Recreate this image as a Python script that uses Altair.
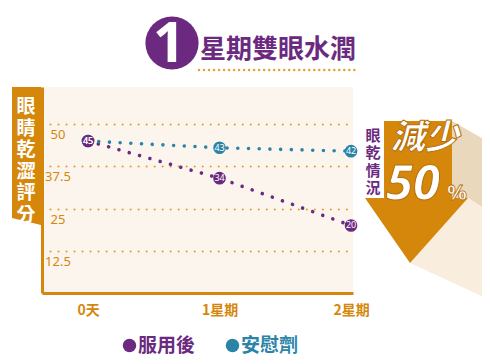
import json
import altair as alt
import pandas as pd

# ---- data ----
weeks = [0, 1, 2]
week_labels = ["0天", "1星期", "2星期"]
series_names = ["服用後", "安慰劑"]
treated = [45, 34, 20]
placebo = [45, 43, 42]
y_ticks = [12.5, 25, 37.5, 50]
y_tick_labels = ["12.5", "25", "37.5", "50"]

title_num = "1"
title_text = "星期雙眼水潤"
y_title_chars = ["眼", "睛", "乾", "澀", "評", "分"]
badge_chars = ["眼", "乾", "情", "況"]
badge_main = "減少"
badge_pct = "50"

PURPLE = "#6B2A80"
BLUE = "#2A84A8"
ORANGE = "#D5870C"
GRID = "#E4A032"
BEIGE = "#FBF5EE"
TAN = "#E9D8BC"
LIGHT = "#F9EEDE"
CJK = "Noto Sans CJK TC"

df = pd.DataFrame({
    "week": weeks * 2,
    "score": treated + placebo,
    "series": [series_names[0]] * len(weeks) + [series_names[1]] * len(weeks),
})
df["order"] = df["series"].map({series_names[1]: 0, series_names[0]: 1})
ticks_df = pd.DataFrame({"week": [0] * len(y_ticks), "score": y_ticks, "lab": y_tick_labels})
one = pd.DataFrame({"a": [0]})

label_expr = json.dumps(week_labels, ensure_ascii=False) + "[datum.value]"

xscale = alt.Scale(domain=[-0.35, 2.015], nice=False, zero=False)
yscale = alt.Scale(domain=[0, 61], nice=False, zero=True)
color = alt.Color("series:N", scale=alt.Scale(domain=series_names, range=[PURPLE, BLUE]), legend=None)

x_axis = alt.Axis(
    values=weeks, labelExpr=label_expr, title=None, ticks=False, grid=False,
    domainColor=ORANGE, domainWidth=3, labelColor=ORANGE, labelFont=CJK,
    labelFontWeight="bold", labelFontSize=14, labelPadding=10)
y_axis = alt.Axis(
    values=y_ticks, labels=False, ticks=False, title=None, grid=True,
    gridColor=GRID, gridDash=[0.01, 8], gridCap="round", gridWidth=2.2,
    domainColor=ORANGE, domainWidth=3)
X = alt.X("week:Q", scale=xscale, axis=x_axis)
Y = alt.Y("score:Q", scale=yscale, axis=y_axis)

lines = alt.Chart(df).mark_line(strokeDash=[0.01, 10.7], strokeCap="round", strokeWidth=3.6).encode(
    x=X, y=Y, color=color, detail="series:N", order="week:Q")

circles = alt.Chart(df).mark_circle(size=160, opacity=1).encode(
    x=X, y=Y, color=color, order="order:Q")

pt_labels = alt.Chart(df).mark_text(color="white", fontSize=9, font="Noto Sans", baseline="middle", align="center").encode(
    x=X, y=Y, text="score:Q", order="order:Q")

ytick_text = alt.Chart(ticks_df).mark_text(color=ORANGE, fontSize=13, font="Noto Sans", align="center",
                                            baseline="middle", dy=11).encode(
    x=alt.value(16), y=Y, text="lab:N")

# ---- decorations (plot-relative pixels) ----
def shape(path, fill):
    return alt.Chart(one).mark_point(shape=path, size=4, filled=True, fill=fill, opacity=1, strokeWidth=0).encode(
        x=alt.value(0), y=alt.value(0))

def vtext(chars, x, y0, step, size, col):
    out = []
    for i, ch in enumerate(chars):
        out.append(alt.Chart(one).mark_text(text=ch, font=CJK, fontWeight="bold", fontSize=size, color=col,
                                            align="center", baseline="middle").encode(
            x=alt.value(x), y=alt.value(y0 + i * step)))
    return out

ybox = shape("M-30,0L-1,0L-1,138L-30,131Z", ORANGE)
ytitle = vtext(y_title_chars, -16, 20, 21.6, 19, "white")

shadow1 = shape("M410,34L448,56L448,125L426,111L410,111Z", TAN)
shadow2 = shape("M426,111L448,125L448,213L368,176Z", LIGHT)
arrow = shape("M342,34L410,34L410,111L426,111L368,176L323,111L342,111Z", ORANGE)

badge = vtext(badge_chars, 331, 48.5, 17.6, 15, PURPLE)
reduce_txt = alt.Chart(one).mark_text(text=badge_main, font=CJK, fontWeight=900, fontStyle="italic", fontSize=34,
                                      color="white", stroke="#B86E04", strokeWidth=1, align="center",
                                      baseline="middle").encode(x=alt.value(383), y=alt.value(52))
pct50 = alt.Chart(one).mark_text(text=badge_pct, font="Noto Sans", fontWeight="bold", fontStyle="italic", fontSize=49,
                                 color="white", stroke="#B86E04", strokeWidth=1, align="center",
                                 baseline="alphabetic").encode(x=alt.value(371), y=alt.value(113))
pct_sign = alt.Chart(one).mark_text(text="%", font="Noto Sans", fontWeight="bold", fontSize=22,
                                    color="white", stroke="#B86E04", strokeWidth=0.8, align="center",
                                    baseline="alphabetic").encode(x=alt.value(415), y=alt.value(113))

title_circle = alt.Chart(one).mark_circle(size=2830, color=PURPLE, opacity=1).encode(
    x=alt.value(130), y=alt.value(-44))
title_one = alt.Chart(one).mark_text(text=title_num, font="Noto Sans", fontWeight="bold", fontSize=56, color="white",
                                     align="center", baseline="middle").encode(x=alt.value(127), y=alt.value(-42))
title_txt = alt.Chart(one).mark_text(text=title_text, font=CJK, fontWeight="bold", fontSize=26, color=PURPLE,
                                     align="left", baseline="alphabetic").encode(x=alt.value(158), y=alt.value(-29))
title_rule = alt.Chart(one).mark_rule(color=GRID, strokeDash=[0.01, 5], strokeCap="round", strokeWidth=2.5).encode(
    x=alt.value(157), x2=alt.value(316), y=alt.value(-17))

leg_c1 = alt.Chart(one).mark_circle(size=180, color=PURPLE, opacity=1).encode(x=alt.value(87.5), y=alt.value(258.5))
leg_t1 = alt.Chart(one).mark_text(text=series_names[0], font=CJK, fontWeight="bold", fontSize=19, color=PURPLE,
                                  align="left", baseline="middle").encode(x=alt.value(96), y=alt.value(259))
leg_c2 = alt.Chart(one).mark_circle(size=180, color=BLUE, opacity=1).encode(x=alt.value(190.5), y=alt.value(258.5))
leg_t2 = alt.Chart(one).mark_text(text=series_names[1], font=CJK, fontWeight="bold", fontSize=19, color=BLUE,
                                  align="left", baseline="middle").encode(x=alt.value(199), y=alt.value(259))

chart = alt.layer(
    lines, circles, pt_labels, ytick_text,
    ybox, *ytitle, shadow1, shadow2, arrow, *badge, reduce_txt, pct50, pct_sign,
    title_circle, title_one, title_txt, title_rule,
    leg_c1, leg_t1, leg_c2, leg_t2,
).properties(
    width=311, height=206, autosize="none",
    padding={"left": 34, "top": 79, "right": 129, "bottom": 63},
    background="white",
).configure_view(fill=BEIGE, strokeWidth=0)

chart.save("out.html", embed_options={"renderer": "svg", "actions": False})
